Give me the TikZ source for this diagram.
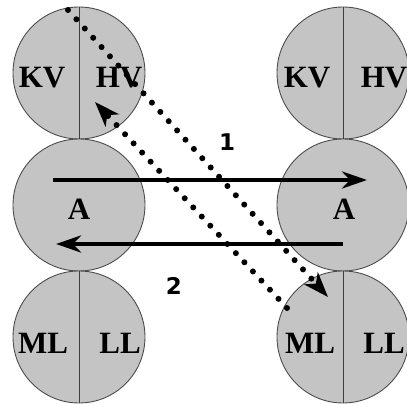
\documentclass[tikz,border=0pt]{standalone}
\usepackage{fontspec}
\setmainfont{Liberation Serif}
\newfontfamily\numfont{DejaVu Sans}
\usetikzlibrary{arrows.meta}
\begin{document}
\begin{tikzpicture}[x=1pt,y=-1pt,
  ball/.style={circle,draw=black!70,line width=0.9pt,fill=black!23,minimum size=132pt,inner sep=0pt},
  divider/.style={draw=black!75,line width=0.9pt},
  lbl/.style={font=\fontsize{31}{31}\selectfont\bfseries,inner sep=0pt},
  num/.style={font=\numfont\fontsize{23}{23}\selectfont\bfseries,inner sep=0pt},
  flow/.style={line width=4.5pt,-{Stealth[length=25pt,width=17pt,inset=8pt]}},
  dots/.style={line width=6pt,line cap=round,dash pattern=on 0pt off 12.5pt,-{Stealth[length=25pt,width=18pt,inset=7pt]}}]
\useasboundingbox (0,0) rectangle (407,404);
\node[ball] (lt) at (79,73) {};
\node[ball] (lm) at (79,205) {};
\node[ball] (lb) at (79,337) {};
\node[ball] (rt) at (343,73) {};
\node[ball] (rm) at (343,205) {};
\node[ball] (rb) at (343,337) {};
\draw[divider] (lt.north) -- (lt.south);
\draw[divider] (lb.north) -- (lb.south);
\draw[divider] (rt.north) -- (rt.south);
\draw[divider] (rb.north) -- (rb.south);
\node[lbl] (kv1) at (42,78) {KV};
\node[lbl] (hv1) at (119,78) {HV};
\node[lbl] (kv2) at (307,78) {KV};
\node[lbl] (hv2) at (384,78) {HV};
\node[lbl] (a1) at (79,209) {A};
\node[lbl] (a2) at (344,209) {A};
\node[lbl] (ml1) at (43,343) {ML};
\node[lbl] (ll1) at (120,343) {LL};
\node[lbl] (ml2) at (310,343) {ML};
\node[lbl] (ll2) at (384,343) {LL};
\coordinate (s1) at (53,180);
\coordinate (e1) at (367,180);
\coordinate (s2) at (343,244);
\coordinate (e2) at (56,244);
\draw[flow] (s1) -- (e1);
\draw[flow] (s2) -- (e2);
\coordinate (d1s) at (68,10);
\coordinate (d1e) at (328,297);
\coordinate (d2s) at (287,308);
\coordinate (d2e) at (95,102);
\draw[dots] (d1s) -- (d1e);
\draw[dots] (d2s) -- (d2e);
\node[num] (n1) at (227,142) {1};
\node[num] (n2) at (174,286) {2};
\end{tikzpicture}
\end{document}
